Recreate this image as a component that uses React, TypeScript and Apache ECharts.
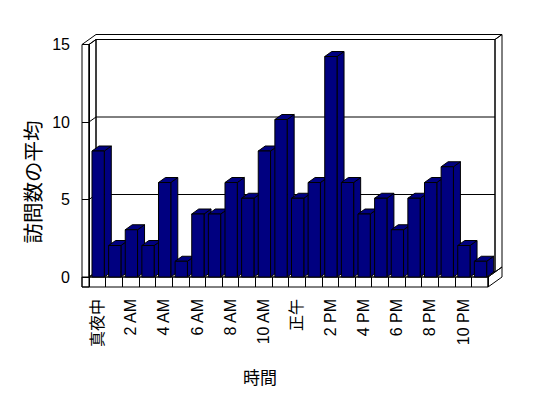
import React, { useEffect, useRef } from 'react';
import * as echarts from 'echarts';

const hours = [
  '真夜中', '1 AM', '2 AM', '3 AM', '4 AM', '5 AM', '6 AM', '7 AM', '8 AM', '9 AM', '10 AM', '11 AM',
  '正午', '1 PM', '2 PM', '3 PM', '4 PM', '5 PM', '6 PM', '7 PM', '8 PM', '9 PM', '10 PM', '11 PM',
];
const visits = [8, 2, 3, 2, 6, 1, 4, 4, 6, 5, 8, 10, 5, 6, 14, 6, 4, 5, 3, 5, 6, 7, 2, 1];
const yTicks = [0, 5, 10, 15];
const yTitle = '訪問数の平均';
const xTitle = '時間';

const DX = 7;
const DY = -5;
const WALL = 7;
const FLOOR = 10;
const BAR_COLOR = '#000080';
const FONT = '"Liberation Sans", "Noto Sans CJK JP", sans-serif';

export default function App() {
  const ref = useRef<HTMLDivElement>(null);
  useEffect(() => {
    const chart = echarts.init(ref.current!, null, { renderer: 'svg' });
    const line = { stroke: '#000', lineWidth: 1, fill: 'none' };

    const frameRender = (params: any) => {
      const cs = params.coordSys;
      const L = cs.x, R = cs.x + cs.width, T = cs.y, B = cs.y + cs.height;
      const poly = (pts: number[][]) => ({ type: 'polygon', shape: { points: pts }, style: line });
      return {
        type: 'group',
        children: [
          poly([[L + DX, T + DY], [R + DX, T + DY], [R + DX, B + DY], [L + DX, B + DY]]),
          poly([[L, T], [L + DX, T + DY], [L + DX, B + DY], [L, B]]),
          poly([[L - WALL, T], [L, T], [L, B + FLOOR], [L - WALL, B + FLOOR]]),
          poly([[L - WALL, T], [L - WALL + 2 * DX, T + 2 * DY], [R + 2 * DX, T + 2 * DY], [R + DX, T + DY], [L + DX, T + DY], [L, T]]),
          poly([[R + DX, T + DY], [R + 2 * DX, T + 2 * DY], [R + 2 * DX, B + 2 * DY], [R + DX, B + DY]]),
          poly([[L - WALL, B], [R, B], [R, B + FLOOR], [L - WALL, B + FLOOR]]),
          poly([[L, B], [R, B], [R + DX, B + DY], [L + DX, B + DY]]),
          poly([[R, B], [R + 2 * DX, B + 2 * DY], [R + 2 * DX, B + 2 * DY + FLOOR], [R, B + FLOOR]]),
        ],
      };
    };

    const gridRender = (params: any, api: any) => {
      const cs = params.coordSys;
      const L = cs.x, R = cs.x + cs.width;
      const y = api.coord([0, api.value(1)])[1];
      return {
        type: 'polyline',
        shape: { points: [[L, y], [L + DX, y + DY], [R + DX, y + DY]] },
        style: line,
      };
    };

    const barRender = (params: any, api: any) => {
      const i = api.value(0);
      const v = api.value(1);
      const top = api.coord([i, v]);
      const bot = api.coord([i, 0]);
      const bw = api.size([1, 0])[0];
      const x0 = top[0] - 0.32 * bw;
      const x1 = top[0] + 0.42 * bw;
      const yt = top[1];
      const yb = bot[1];
      const st = { fill: BAR_COLOR, stroke: '#000', lineWidth: 1 };
      return {
        type: 'group',
        children: [
          { type: 'polygon', shape: { points: [[x1, yt], [x1 + DX, yt + DY], [x1 + DX, yb + DY], [x1, yb]] }, style: st },
          { type: 'polygon', shape: { points: [[x0, yt], [x1, yt], [x1 + DX, yt + DY], [x0 + DX, yt + DY]] }, style: st },
          { type: 'rect', shape: { x: x0, y: yt, width: x1 - x0, height: yb - yt }, style: st },
        ],
      };
    };

    chart.setOption({
      animation: false,
      backgroundColor: '#fff',
      grid: [
        { left: 89, right: 60, top: 277 - 15 * 15.75, bottom: 121 },
        { left: 89, right: 60, top: 44.5, bottom: 121 },
      ],
      xAxis: [
        {
          type: 'category',
          gridIndex: 0,
          data: hours,
          axisLine: { show: false },
          axisTick: { show: true, interval: 0, length: FLOOR, lineStyle: { color: '#000' } },
          axisLabel: {
            interval: 1,
            rotate: 90,
            margin: 22,
            color: '#000000',
            fontSize: 16,
            fontFamily: FONT,
          },
        },
        { type: 'category', gridIndex: 1, data: hours, show: false },
      ],
      yAxis: [
        { type: 'value', gridIndex: 0, min: 0, max: 15, show: false },
        {
          type: 'value',
          gridIndex: 1,
          min: 0,
          max: 15,
          interval: 5,
          axisLine: { show: true, lineStyle: { color: '#000' } },
          axisTick: { show: true, length: WALL, lineStyle: { color: '#000' } },
          splitLine: { show: false },
          axisLabel: { margin: 19, color: '#000', fontSize: 16, fontFamily: FONT },
        },
      ],
      graphic: [
        {
          type: 'text',
          x: 32,
          y: 182,
          rotation: Math.PI / 2,
          style: { text: yTitle, fill: '#000', fontSize: 20.5, fontFamily: '"Noto Sans CJK JP"', textAlign: 'center', textVerticalAlign: 'middle' },
        },
        {
          type: 'text',
          x: 260,
          y: 376,
          style: { text: xTitle, fill: '#000', fontSize: 17, fontFamily: '"Noto Sans CJK JP"', textAlign: 'center', textVerticalAlign: 'middle' },
        },
      ],
      series: [
        { type: 'custom', name: 'frame', xAxisIndex: 1, yAxisIndex: 1, z: 1, data: [[0, 0]], renderItem: frameRender, silent: true },
        {
          type: 'custom',
          name: 'grid',
          xAxisIndex: 1,
          yAxisIndex: 1,
          z: 1,
          data: yTicks.slice(1, -1).map((v) => [0, v]),
          renderItem: gridRender,
          silent: true,
        },
        {
          type: 'custom',
          name: yTitle,
          xAxisIndex: 0,
          yAxisIndex: 0,
          z: 3,
          data: visits.map((v, i) => [i, v]),
          renderItem: barRender,
        },
      ],
    });
    return () => chart.dispose();
  }, []);
  return <div ref={ref} style={{ position: 'fixed', left: 0, top: 0, width: 548, height: 398 }} />;
}
